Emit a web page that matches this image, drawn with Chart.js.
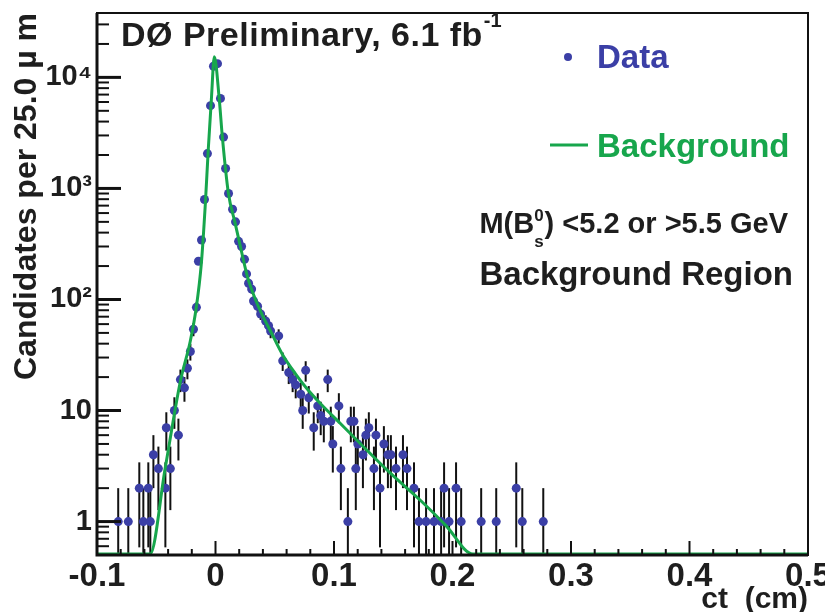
<!DOCTYPE html>
<html>
<head>
<meta charset="utf-8">
<script src="https://cdn.jsdelivr.net/npm/chart.js@4"></script>
<style>
  html, body { margin: 0; padding: 0; background: #fff; }
  #wrap { width: 825px; height: 612px; }
</style>
</head>
<body>
<div id="wrap"><canvas id="ctChart"></canvas></div>
<script>
// proper decay length bins (cm) and candidates per 25 um
const ctValues = [
  -0.0821, -0.0736, -0.0643, -0.0609, -0.0567, -0.0550, -0.0524, -0.0482, -0.0423, -0.0415,
  -0.0381, -0.0347, -0.0313, -0.0296, -0.0262, -0.0237, -0.0212, -0.0186, -0.0161, -0.0144,
  -0.0118, -0.0093, -0.0068, -0.0042, -0.0017, 0.0017, 0.0042, 0.0068, 0.0085, 0.0110,
  0.0144, 0.0169, 0.0195, 0.0220, 0.0245, 0.0262, 0.0279, 0.0305, 0.0321, 0.0355,
  0.0381, 0.0423, 0.0448, 0.0465, 0.0533, 0.0567, 0.0618, 0.0651, 0.0677, 0.0719,
  0.0736, 0.0761, 0.0787, 0.0829, 0.0863, 0.0888, 0.0914, 0.0947, 0.0973, 0.0990,
  0.1041, 0.1058, 0.1117, 0.1142, 0.1168, 0.1184, 0.1201, 0.1244, 0.1269, 0.1294,
  0.1337, 0.1354, 0.1388, 0.1421, 0.1455, 0.1480, 0.1523, 0.1582, 0.1616, 0.1675,
  0.1717, 0.1777, 0.1844, 0.1904, 0.1929, 0.1971, 0.2030, 0.2073, 0.2242, 0.2369,
  0.2538, 0.2589, 0.2766
];
const counts = [
  1, 1, 2, 1, 2, 1, 4, 3, 2, 7,
  3, 10, 6, 19, 16, 24, 34, 54, 85, 221,
  343, 794, 2060, 5560, 12600, 13300, 6470, 2900, 1510, 900,
  650, 500, 334, 300, 230, 170, 140, 124, 97, 87,
  74, 64, 58, 52, 47, 28, 22, 19, 17, 14,
  10, 23, 13, 7, 11, 9, 8, 19, 8, 5,
  11, 3, 1, 8, 8, 3, 5, 4, 6, 7,
  3, 6, 2, 5, 4, 4, 3, 4, 3, 2,
  1, 1, 1, 1, 2, 1, 2, 1, 1, 1,
  2, 1, 1
];

// background fit curve
const fitCt = [
  -0.1, -0.0552, -0.0425, -0.0298, -0.0213, -0.0162, -0.012, -0.0086, -0.0061, -0.0035,
  -0.001, 0.0032, 0.0058, 0.0108, 0.0167, 0.021, 0.027, 0.0337, 0.0396, 0.0464,
  0.0565, 0.0675, 0.076, 0.0887, 0.1056, 0.1225, 0.148, 0.1733, 0.1945, 0.2173, 0.5
];
const fitVals = [
  0.51, 0.51, 3.0, 18, 42, 85, 208, 720, 2250, 6300,
  15300, 6300, 2900, 920, 480, 300, 160, 100, 72, 52,
  32, 21.4, 16.3, 11.5, 7.6, 5, 2.7, 1.54, 0.92, 0.51, 0.51
];

const xTicks = [-0.1, 0, 0.1, 0.2, 0.3, 0.4, 0.5];
const yTicks = [1, 10, 100, 1000, 10000];
const yTickLabels = ['1', '10', '10²', '10³', '10⁴'];

const FONT = "'Liberation Sans', Arial, sans-serif";
const BLUE = '#3b3fa6';
const GREEN = '#17a64c';
const INK = '#1e1e1e';

const framePlugin = {
  id: 'frame',
  beforeDatasetsDraw(chart) {
    const {ctx, chartArea: a, scales: {x, y}} = chart;
    ctx.save();
    ctx.beginPath();
    ctx.rect(a.left, a.top, a.right - a.left, a.bottom - a.top);
    ctx.clip();
    ctx.strokeStyle = '#111';
    ctx.lineWidth = 2;
    ctValues.forEach((c, i) => {
      const n = counts[i];
      const err = Math.sqrt(n);
      const px = x.getPixelForValue(c);
      const top = y.getPixelForValue(n + err);
      const bot = n - err > 0 ? y.getPixelForValue(n - err) : a.bottom;
      ctx.beginPath();
      ctx.moveTo(px, top);
      ctx.lineTo(px, bot);
      ctx.stroke();
    });
    ctx.restore();
  },
  afterDraw(chart) {
    const {ctx, chartArea: a, scales: {x, y}} = chart;
    ctx.save();
    ctx.strokeStyle = '#111';

    // inward ticks on x
    ctx.lineWidth = 2;
    for (let i = 0; i <= 30; i++) {
      const v = -0.1 + i * 0.02;
      const px = x.getPixelForValue(v);
      const len = i % 5 === 0 ? 14 : 6;
      ctx.beginPath();
      ctx.moveTo(px, a.bottom);
      ctx.lineTo(px, a.bottom - len);
      ctx.stroke();
    }
    // inward ticks on y (log)
    for (let e = -1; e <= 4; e++) {
      for (let m = 1; m <= 9; m++) {
        const v = m * Math.pow(10, e);
        if (v < y.min || v > y.max) continue;
        const py = y.getPixelForValue(v);
        const len = m === 1 ? 24 : 12;
        ctx.lineWidth = m === 1 ? 3 : 2;
        ctx.beginPath();
        ctx.moveTo(a.left, py);
        ctx.lineTo(a.left + len, py);
        ctx.stroke();
      }
    }

    // frame
    ctx.lineWidth = 2;
    ctx.strokeRect(a.left, a.top, a.right - a.left, a.bottom - a.top);
    ctx.lineWidth = 3;
    ctx.beginPath();
    ctx.moveTo(a.left, a.top);
    ctx.lineTo(a.left, a.bottom);
    ctx.lineTo(a.right, a.bottom);
    ctx.stroke();

    // header
    ctx.fillStyle = INK;
    ctx.textBaseline = 'alphabetic';
    ctx.textAlign = 'left';
    ctx.letterSpacing = '0.5px';
    ctx.font = 'bold 34px ' + FONT;
    const head = 'DØ Preliminary, 6.1 fb';
    ctx.fillText(head, 121, 46);
    const hw = ctx.measureText(head).width;
    ctx.letterSpacing = '0px';
    ctx.font = 'bold 20px ' + FONT;
    ctx.fillText('-1', 121 + hw + 1, 27);

    // legend
    ctx.fillStyle = BLUE;
    ctx.beginPath();
    ctx.arc(568, 57, 4, 0, Math.PI * 2);
    ctx.fill();
    ctx.font = 'bold 33px ' + FONT;
    ctx.fillText('Data', 597, 68);

    ctx.strokeStyle = GREEN;
    ctx.lineWidth = 3;
    ctx.beginPath();
    ctx.moveTo(550, 145);
    ctx.lineTo(588, 145);
    ctx.stroke();
    ctx.fillStyle = GREEN;
    ctx.fillText('Background', 597, 157);

    // selection note
    ctx.fillStyle = INK;
    ctx.font = 'bold 29px ' + FONT;
    const p1 = 'M(B', p3 = ') <5.2 or >5.5 GeV';
    const w1 = ctx.measureText(p1).width;
    const w3 = ctx.measureText(p3).width;
    ctx.font = 'bold 17px ' + FONT;
    const w2 = ctx.measureText('0').width + 1;
    const x0 = 788 - (w1 + w2 + w3);
    ctx.font = 'bold 29px ' + FONT;
    ctx.fillText(p1, x0, 233);
    ctx.fillText(p3, x0 + w1 + w2, 233);
    ctx.font = 'bold 17px ' + FONT;
    ctx.fillText('0', x0 + w1, 221);
    ctx.fillText('s', x0 + w1, 247);

    ctx.textAlign = 'right';
    ctx.font = 'bold 33px ' + FONT;
    ctx.fillText('Background Region', 793, 285);
    ctx.restore();
  }
};

new Chart(document.getElementById('ctChart'), {
  type: 'scatter',
  data: {
    datasets: [
      {
        label: 'Background',
        data: fitCt.map((c, i) => ({x: c, y: fitVals[i]})),
        showLine: true,
        borderColor: GREEN,
        borderWidth: 3,
        pointRadius: 0,
        cubicInterpolationMode: 'monotone',
        order: 0
      },
      {
        label: 'Data',
        data: ctValues.map((c, i) => ({x: c, y: counts[i]})),
        backgroundColor: BLUE,
        borderColor: BLUE,
        borderWidth: 0,
        pointRadius: 4.5,
        order: 1
      }
    ]
  },
  options: {
    responsive: true,
    maintainAspectRatio: false,
    animation: false,
    layout: { padding: { left: 0, right: 17, top: 13, bottom: 0 } },
    plugins: { legend: { display: false }, tooltip: { enabled: false } },
    scales: {
      x: {
        type: 'linear',
        min: -0.1,
        max: 0.5,
        grid: { display: false, drawTicks: false },
        border: { display: false },
        afterBuildTicks: s => { s.ticks = xTicks.map(v => ({value: v})); },
        afterFit: s => { s.height = 57; s.paddingLeft = 0; s.paddingRight = 0; },
        ticks: {
          autoSkip: false,
          maxRotation: 0,
          padding: 5,
          color: INK,
          font: { family: FONT, size: 33, weight: 'bold', lineHeight: 1 },
          callback: v => String(Math.round(v * 10) / 10)
        },
        title: {
          display: true,
          text: 'ct  (cm)',
          align: 'end',
          color: INK,
          padding: { top: 0, bottom: -3 },
          font: { family: FONT, size: 30, weight: 'bold', lineHeight: 1 }
        }
      },
      y: {
        type: 'logarithmic',
        min: 0.5,
        max: 38000,
        grid: { display: false, drawTicks: false },
        border: { display: false },
        afterBuildTicks: s => { s.ticks = yTicks.map(v => ({value: v})); },
        afterFit: s => { s.width = 97; s.paddingTop = 0; s.paddingBottom = 0; },
        ticks: {
          autoSkip: false,
          padding: 5,
          color: INK,
          font: { family: FONT, size: 29, weight: 'bold' },
          callback: (v, i) => yTickLabels[i]
        },
        title: {
          display: true,
          text: 'Candidates per 25.0 µ m',
          align: 'end',
          color: INK,
          padding: { top: 11, bottom: 0 },
          font: { family: FONT, size: 32, weight: 'bold', lineHeight: 1 }
        }
      }
    }
  },
  plugins: [framePlugin]
});
</script>
</body>
</html>
